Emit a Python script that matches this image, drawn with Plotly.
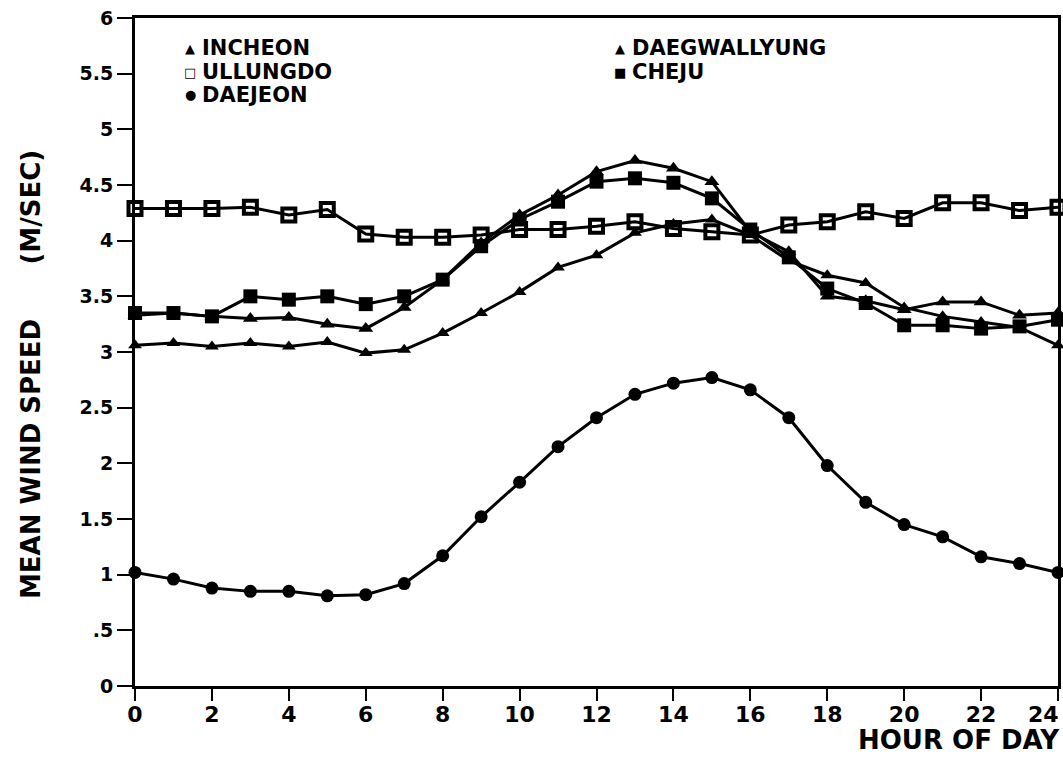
import plotly.graph_objects as go

hours = list(range(25))

incheon = [3.33, 3.35, 3.32, 3.30, 3.31, 3.25, 3.21, 3.40, 3.65, 3.98, 4.23, 4.41, 4.62, 4.72, 4.65, 4.53,
           4.08, 3.90, 3.50, 3.46, 3.38, 3.45, 3.45, 3.33, 3.35]
ullungdo = [4.29, 4.29, 4.29, 4.30, 4.23, 4.28, 4.06, 4.03, 4.03, 4.05, 4.10, 4.10, 4.13, 4.17, 4.11, 4.08,
            4.05, 4.14, 4.17, 4.26, 4.20, 4.34, 4.34, 4.27, 4.30]
daejeon = [1.02, 0.96, 0.88, 0.85, 0.85, 0.81, 0.82, 0.92, 1.17, 1.52, 1.83, 2.15, 2.41, 2.62, 2.72, 2.77,
           2.66, 2.41, 1.98, 1.65, 1.45, 1.34, 1.16, 1.10, 1.02]
daegwallyung = [3.06, 3.08, 3.05, 3.08, 3.05, 3.09, 2.99, 3.02, 3.17, 3.35, 3.54, 3.76, 3.87, 4.07, 4.15, 4.19,
                4.05, 3.82, 3.69, 3.62, 3.40, 3.32, 3.27, 3.22, 3.06]
cheju = [3.35, 3.35, 3.32, 3.50, 3.47, 3.50, 3.43, 3.50, 3.65, 3.95, 4.19, 4.35, 4.53, 4.56, 4.52, 4.38,
         4.10, 3.85, 3.57, 3.44, 3.24, 3.24, 3.21, 3.23, 3.29]

x_ticks = list(range(0, 25, 2))
x_tick_text = ["0", "2", "4", "6", "8", "10", "12", "14", "16", "18", "20", "22", "24"]
y_ticks = [0, 0.5, 1, 1.5, 2, 2.5, 3, 3.5, 4, 4.5, 5, 5.5, 6]
y_tick_text = ["0", ".5", "1", "1.5", "2", "2.5", "3", "3.5", "4", "4.5", "5", "5.5", "6"]

series = [
    ("INCHEON", incheon, dict(symbol="triangle-up", size=13, color="black"), "\u25B2"),
    ("DAEGWALLYUNG", daegwallyung, dict(symbol="triangle-up", size=12, color="black"), "\u25B2"),
    ("ULLUNGDO", ullungdo, dict(symbol="square-open", size=13, color="black",
                                line=dict(width=4, color="black")), "\u25A1"),
    ("CHEJU", cheju, dict(symbol="square", size=14, color="black"), "\u25A0"),
    ("DAEJEON", daejeon, dict(symbol="circle", size=13, color="black"), "\u25CF"),
]

# legend layout slots (paper coords): glyph x, row y
legend_slots = {
    "INCHEON": (0.0596, 0.955),
    "DAEGWALLYUNG": (0.5255, 0.955),
    "ULLUNGDO": (0.0596, 0.919),
    "CHEJU": (0.5255, 0.919),
    "DAEJEON": (0.0596, 0.885),
}

font_main = "DejaVu Sans"

fig = go.Figure()
annotations = []
for name, vals, mk, glyph in series:
    fig.add_trace(go.Scatter(x=hours, y=vals, mode="lines+markers", name=name,
                             line=dict(color="black", width=3), marker=mk,
                             showlegend=False, cliponaxis=False))
    gx, gy = legend_slots[name]
    annotations.append(dict(text=glyph, xref="paper", yref="paper", x=gx, y=gy,
                            showarrow=False, xanchor="center", yanchor="middle",
                            font=dict(family=font_main, size=13, color="black")))
    annotations.append(dict(text="<b>" + name + "</b>", xref="paper", yref="paper",
                            x=gx + 0.011, y=gy, showarrow=False, xanchor="left", yanchor="middle",
                            font=dict(family=font_main, size=21, color="black")))

annotations.append(dict(text="<b>MEAN WIND SPEED      (M/SEC)</b>", xref="paper", yref="paper",
                        x=-0.1127, y=0.467, textangle=-90, showarrow=False,
                        xanchor="center", yanchor="middle",
                        font=dict(family=font_main, size=26, color="black")))
annotations.append(dict(text="<b>HOUR OF DAY</b>", xref="paper", yref="paper",
                        x=1.0043, y=-0.081, showarrow=False, xanchor="right", yanchor="middle",
                        font=dict(family=font_main, size=26, color="black")))
# last hour label sits left of its tick, at the page edge, as in the reference
annotations.append(dict(text="<b>" + x_tick_text[-1] + "</b>", xref="x", yref="paper",
                        x=x_ticks[-1], y=-0.042, xshift=3, showarrow=False,
                        xanchor="right", yanchor="middle",
                        font=dict(family=font_main, size=22, color="black")))

x_tick_labels = x_tick_text[:-1] + [""]

fig.update_layout(
    width=1063, height=761,
    margin=dict(l=135, r=5, t=18, b=75, autoexpand=False),
    paper_bgcolor="white", plot_bgcolor="white",
    showlegend=False,
    xaxis=dict(range=[0, 24], tickvals=x_ticks, ticktext=x_tick_labels,
               automargin=False,
               showgrid=False, zeroline=False, showline=True, linewidth=3, linecolor="black",
               mirror=True, ticks="outside", ticklen=12, tickwidth=2, tickcolor="black",
               ticklabelstandoff=-5, ticklabelshift=0, ticklabeloverflow="allow",
               tickfont=dict(family=font_main, size=22, color="black", weight="bold")),
    yaxis=dict(range=[0, 6], tickvals=y_ticks, ticktext=y_tick_text,
               automargin=False,
               showgrid=False, zeroline=False, showline=True, linewidth=3, linecolor="black",
               mirror=True, ticks="outside", ticklen=15, tickwidth=2, tickcolor="black",
               ticklabelstandoff=0, ticklabeloverflow="allow",
               tickfont=dict(family=font_main, size=19, color="black", weight="bold")),
    annotations=annotations,
)

fig.write_html("out.html", config={"displayModeBar": False},
               post_script="document.body.style.margin='0';document.body.style.overflow='hidden';")
